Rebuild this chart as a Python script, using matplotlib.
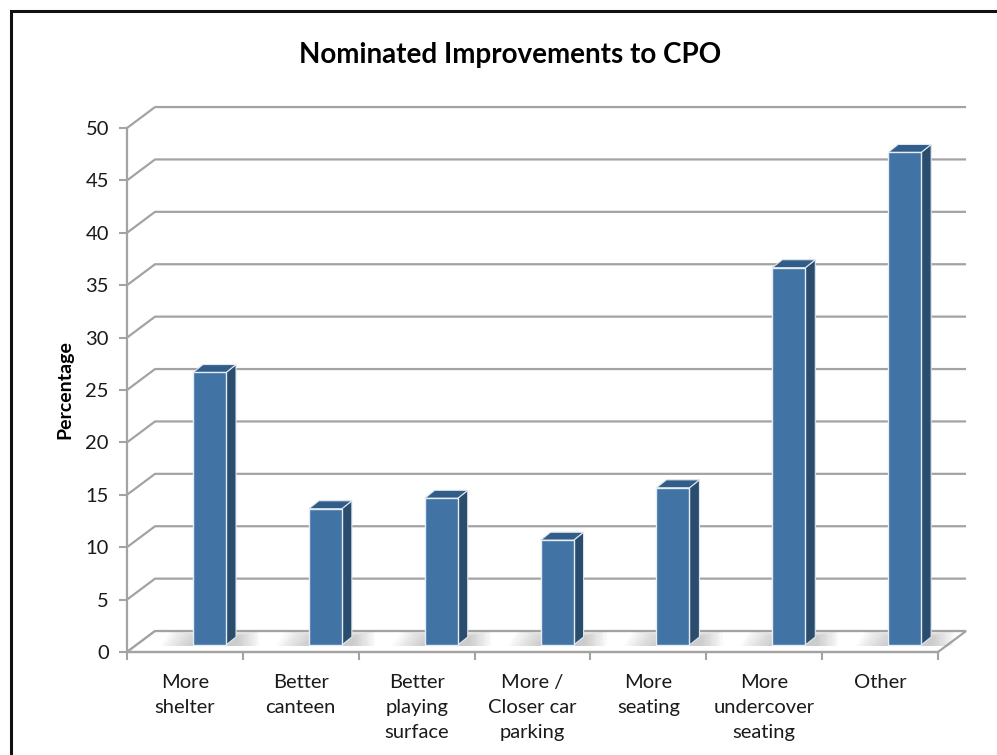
import numpy as np
import matplotlib.pyplot as plt
from matplotlib.patches import Polygon, Rectangle

plt.rcParams['font.family'] = ['Lato', 'DejaVu Sans']

# data
categories = ["More\nshelter", "Better\ncanteen", "Better\nplaying\nsurface",
              "More /\nCloser car\nparking", "More\nseating", "More\nundercover\nseating", "Other"]
values = [26, 13, 14, 10, 15, 36, 47]
yticks = list(range(0, 51, 5))

# fake 3D geometry (data units)
DX, DY = 0.242, 2.0          # depth of the back wall
bar_off, bar_w = 0.57, 0.285  # bar front face position inside a category
bdx, bdy = 0.086, 0.76        # bar depth
y0 = 0.67                     # bar base above front floor edge

grid_c = '#a3a3a3'
front_c, side_c, top_c = '#4173a5', '#2a4d6e', '#335d89'

fig = plt.figure(figsize=(9.97, 7.55), dpi=100)
ax = fig.add_axes([127 / 997, 103 / 755, 811 / 997, 524 / 755])
ax.set_xlim(0, len(values))
ax.set_ylim(0, 50)
ax.patch.set_visible(False)

# back wall grid lines with the diagonal going to the front axis
for v in yticks:
    ax.plot([0, DX, len(values) + DX], [v, v + DY, v + DY], color=grid_c, lw=1.6,
            clip_on=False, zorder=1, solid_capstyle='butt')

# floor
floor = Polygon([(0, 0), (len(values), 0), (len(values) + DX, DY), (DX, DY)],
                closed=True, facecolor='white', edgecolor=grid_c, lw=1.6,
                clip_on=False, zorder=2)
ax.add_patch(floor)

# bars
for i, v in enumerate(values):
    x0 = i + bar_off
    x1 = x0 + bar_w
    top = y0 + v
    # soft shadow on the floor (stacked translucent layers -> gradient)
    for t in np.linspace(1, 0.1, 10):
        sh = Polygon([(x0 - 0.28 * t, y0 - 0.1), (x1 + bdx + 0.2 * t, y0 - 0.1),
                      (x1 + bdx + 0.2 * t, y0 + bdy + 0.6 * t), (x0 - 0.28 * t + bdx, y0 + bdy + 0.6 * t)],
                     closed=True, facecolor='#7a7a7a', edgecolor='none', alpha=0.045,
                     clip_on=False, zorder=3)
        ax.add_patch(sh)
    side = Polygon([(x1, y0), (x1 + bdx, y0 + bdy), (x1 + bdx, top + bdy), (x1, top)],
                   closed=True, facecolor=side_c, edgecolor='#dfe6ee', lw=0.8,
                   clip_on=False, zorder=4)
    topf = Polygon([(x0, top), (x1, top), (x1 + bdx, top + bdy), (x0 + bdx, top + bdy)],
                   closed=True, facecolor=top_c, edgecolor='#dfe6ee', lw=0.8,
                   clip_on=False, zorder=4)
    ax.add_patch(side)
    ax.add_patch(topf)
    ax.add_patch(Rectangle((x0, y0), bar_w, v, facecolor=front_c, edgecolor='#e6ecf3',
                           lw=1.0, clip_on=False, zorder=5))

# axes
for s in ['top', 'right']:
    ax.spines[s].set_visible(False)
for s in ['left', 'bottom']:
    ax.spines[s].set_color(grid_c)
    ax.spines[s].set_linewidth(1.6)
    ax.spines[s].set_zorder(6)

ax.set_yticks(yticks)
ax.set_yticklabels([str(t) for t in yticks])
ax.tick_params(axis='y', direction='out', length=6, width=1.5, color=grid_c,
               labelsize=14.5, pad=7, labelcolor='#1a1a1a')

ax.set_xticks(np.arange(len(values) + 1))
ax.set_xticklabels([])
ax.set_xticks(np.arange(len(values)) + 0.5, minor=True)
ax.set_xticklabels(categories, minor=True, fontsize=14.5, linespacing=1.55,
                   color='#1a1a1a', va='top')
ax.tick_params(axis='x', which='major', direction='out', length=6, width=1.5, color=grid_c)
ax.tick_params(axis='x', which='minor', length=0, pad=16)

ax.set_ylabel("Percentage", fontsize=14, fontweight='bold')
ax.yaxis.set_label_coords(-0.066, 0.5)

fig.text(510 / 997, 1 - 55 / 755, "Nominated Improvements to CPO", ha='center', va='center',
         fontsize=20, fontweight='bold')

# outer frame (cut off at the right and bottom)
fig.patches.append(Rectangle((11 / 997, -0.1), 1.2, 1 - 11 / 755 + 0.1,
                             transform=fig.transFigure, facecolor='none',
                             edgecolor='#111111', lw=2.2, zorder=10))

fig.savefig("out.png", dpi=100)
